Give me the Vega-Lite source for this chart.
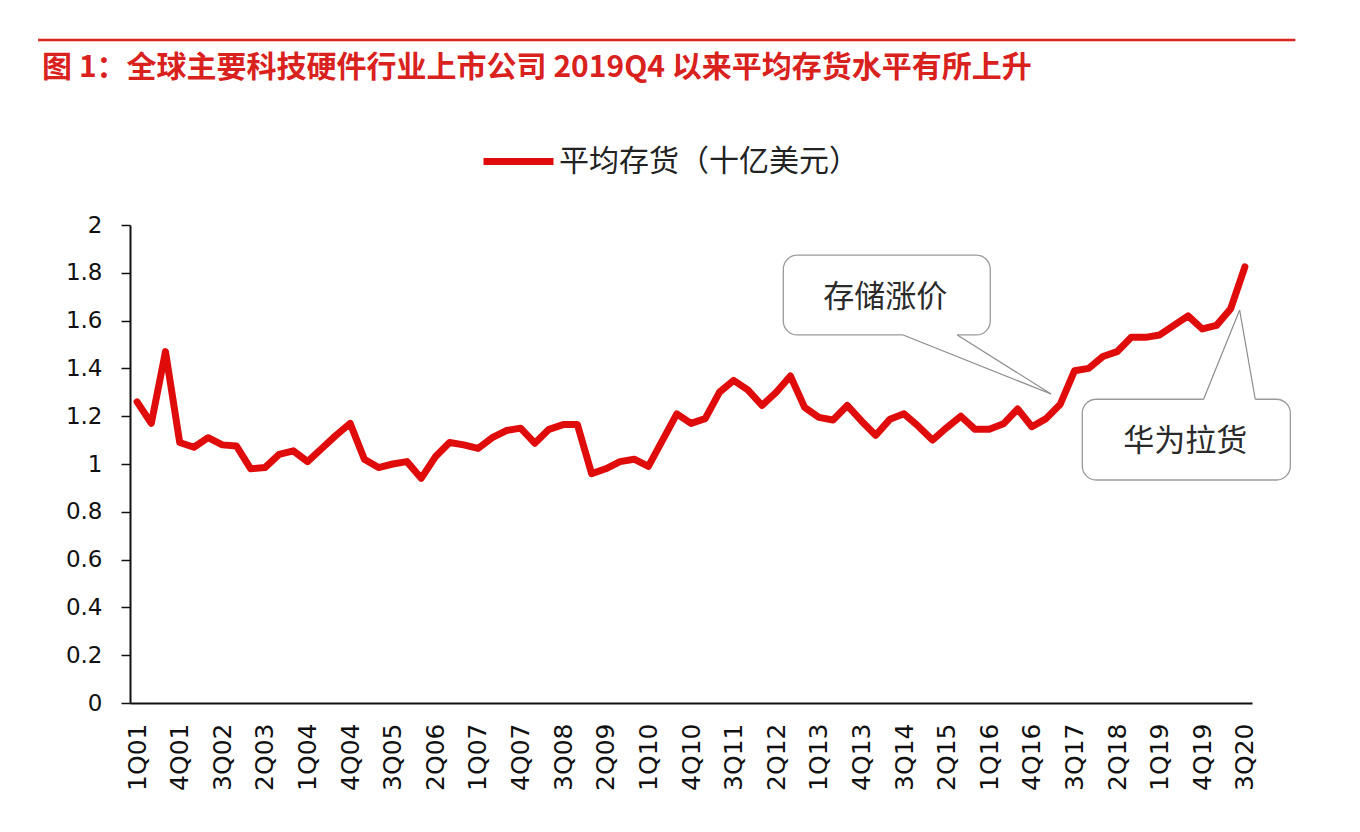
{
  "$schema": "https://vega.github.io/schema/vega-lite/v6.json",
  "autosize": {"type": "none"},
  "padding": {"left": 130, "top": 225, "right": 108, "bottom": 129},
  "width": 1122,
  "height": 478,
  "background": "#ffffff",
  "config": {
    "view": {"stroke": null},
    "font": "DejaVu Sans"
  },
  "datasets": {
    "inventory": [
      {"q": "1Q01", "i": 0, "v": 1.26}, {"q": "2Q01", "i": 1, "v": 1.17}, {"q": "3Q01", "i": 2, "v": 1.47}, {"q": "4Q01", "i": 3, "v": 1.09},
      {"q": "1Q02", "i": 4, "v": 1.07}, {"q": "2Q02", "i": 5, "v": 1.11}, {"q": "3Q02", "i": 6, "v": 1.08}, {"q": "4Q02", "i": 7, "v": 1.075},
      {"q": "1Q03", "i": 8, "v": 0.98}, {"q": "2Q03", "i": 9, "v": 0.985}, {"q": "3Q03", "i": 10, "v": 1.04}, {"q": "4Q03", "i": 11, "v": 1.055},
      {"q": "1Q04", "i": 12, "v": 1.01}, {"q": "2Q04", "i": 13, "v": 1.065}, {"q": "3Q04", "i": 14, "v": 1.12}, {"q": "4Q04", "i": 15, "v": 1.17},
      {"q": "1Q05", "i": 16, "v": 1.02}, {"q": "2Q05", "i": 17, "v": 0.985}, {"q": "3Q05", "i": 18, "v": 1.0}, {"q": "4Q05", "i": 19, "v": 1.01},
      {"q": "1Q06", "i": 20, "v": 0.94}, {"q": "2Q06", "i": 21, "v": 1.03}, {"q": "3Q06", "i": 22, "v": 1.09}, {"q": "4Q06", "i": 23, "v": 1.08},
      {"q": "1Q07", "i": 24, "v": 1.065}, {"q": "2Q07", "i": 25, "v": 1.11}, {"q": "3Q07", "i": 26, "v": 1.14}, {"q": "4Q07", "i": 27, "v": 1.15},
      {"q": "1Q08", "i": 28, "v": 1.087}, {"q": "2Q08", "i": 29, "v": 1.145}, {"q": "3Q08", "i": 30, "v": 1.165}, {"q": "4Q08", "i": 31, "v": 1.165},
      {"q": "1Q09", "i": 32, "v": 0.96}, {"q": "2Q09", "i": 33, "v": 0.98}, {"q": "3Q09", "i": 34, "v": 1.01}, {"q": "4Q09", "i": 35, "v": 1.02},
      {"q": "1Q10", "i": 36, "v": 0.99}, {"q": "2Q10", "i": 37, "v": 1.1}, {"q": "3Q10", "i": 38, "v": 1.21}, {"q": "4Q10", "i": 39, "v": 1.17},
      {"q": "1Q11", "i": 40, "v": 1.19}, {"q": "2Q11", "i": 41, "v": 1.3}, {"q": "3Q11", "i": 42, "v": 1.35}, {"q": "4Q11", "i": 43, "v": 1.31},
      {"q": "1Q12", "i": 44, "v": 1.245}, {"q": "2Q12", "i": 45, "v": 1.3}, {"q": "3Q12", "i": 46, "v": 1.368}, {"q": "4Q12", "i": 47, "v": 1.237},
      {"q": "1Q13", "i": 48, "v": 1.195}, {"q": "2Q13", "i": 49, "v": 1.184}, {"q": "3Q13", "i": 50, "v": 1.245}, {"q": "4Q13", "i": 51, "v": 1.18},
      {"q": "1Q14", "i": 52, "v": 1.12}, {"q": "2Q14", "i": 53, "v": 1.187}, {"q": "3Q14", "i": 54, "v": 1.21}, {"q": "4Q14", "i": 55, "v": 1.158},
      {"q": "1Q15", "i": 56, "v": 1.1}, {"q": "2Q15", "i": 57, "v": 1.152}, {"q": "3Q15", "i": 58, "v": 1.2}, {"q": "4Q15", "i": 59, "v": 1.145},
      {"q": "1Q16", "i": 60, "v": 1.145}, {"q": "2Q16", "i": 61, "v": 1.168}, {"q": "3Q16", "i": 62, "v": 1.23}, {"q": "4Q16", "i": 63, "v": 1.156},
      {"q": "1Q17", "i": 64, "v": 1.19}, {"q": "2Q17", "i": 65, "v": 1.25}, {"q": "3Q17", "i": 66, "v": 1.39}, {"q": "4Q17", "i": 67, "v": 1.4},
      {"q": "1Q18", "i": 68, "v": 1.45}, {"q": "2Q18", "i": 69, "v": 1.47}, {"q": "3Q18", "i": 70, "v": 1.53}, {"q": "4Q18", "i": 71, "v": 1.53},
      {"q": "1Q19", "i": 72, "v": 1.54}, {"q": "2Q19", "i": 73, "v": 1.58}, {"q": "3Q19", "i": 74, "v": 1.62}, {"q": "4Q19", "i": 75, "v": 1.565},
      {"q": "1Q20", "i": 76, "v": 1.58}, {"q": "2Q20", "i": 77, "v": 1.65}, {"q": "3Q20", "i": 78, "v": 1.825}
    ],
    "header": [
      {"x1": -6.97, "x2": 81.55, "y": 2.774, "tx": -6.69, "ty": 2.655, "text": "图 1：全球主要科技硬件行业上市公司 2019Q4 以来平均存货水平有所上升"}
    ],
    "boxes": [
      {"x1": 45.5, "x2": 60.07, "y1": 1.54, "y2": 1.874},
      {"x1": 66.55, "x2": 81.2, "y1": 0.933, "y2": 1.271}
    ],
    "gaps": [
      {"x1": 53.94, "x2": 57.75, "y": 1.54},
      {"x1": 75.09, "x2": 78.73, "y": 1.271}
    ],
    "pointers": [
      {"x1": 53.94, "y1": 1.54, "x2": 64.35, "y2": 1.293},
      {"x1": 57.75, "y1": 1.54, "x2": 64.35, "y2": 1.293},
      {"x1": 75.09, "y1": 1.271, "x2": 77.63, "y2": 1.644},
      {"x1": 78.73, "y1": 1.271, "x2": 77.63, "y2": 1.644}
    ],
    "notes": [
      {"x": 52.68, "y": 1.695, "text": "存储涨价"},
      {"x": 73.8, "y": 1.092, "text": "华为拉货"}
    ]
  },
  "layer": [
    {
      "data": {"name": "inventory"},
      "mark": {"type": "line", "strokeWidth": 7, "strokeJoin": "round", "strokeCap": "round"},
      "encoding": {
        "x": {
          "field": "i",
          "type": "quantitative",
          "title": null,
          "scale": {"domain": [-0.5, 78.5], "nice": false, "zero": false},
          "axis": {
            "values": [0, 3, 6, 9, 12, 15, 18, 21, 24, 27, 30, 33, 36, 39, 42, 45, 48, 51, 54, 57, 60, 63, 66, 69, 72, 75, 78],
            "labelExpr": "(datum.value % 4 + 1) + 'Q' + (floor(datum.value / 4) < 9 ? '0' : '') + (floor(datum.value / 4) + 1)",
            "labelAngle": -90,
            "labelFontSize": 25,
            "labelColor": "#111111",
            "labelPadding": 20,
            "labelFlush": false,
            "labelOverlap": false,
            "ticks": false,
            "grid": false,
            "domainColor": "#111111",
            "domainWidth": 2
          }
        },
        "y": {
          "field": "v",
          "type": "quantitative",
          "title": null,
          "scale": {"domain": [0, 2], "nice": false},
          "axis": {
            "values": [0, 0.2, 0.4, 0.6, 0.8, 1, 1.2, 1.4, 1.6, 1.8, 2],
            "format": "~g",
            "labelFontSize": 23,
            "labelColor": "#111111",
            "labelPadding": 19,
            "labelFlush": false,
            "tickSize": 9,
            "tickColor": "#111111",
            "tickWidth": 1.5,
            "grid": false,
            "domainColor": "#111111",
            "domainWidth": 2
          }
        },
        "color": {
          "datum": "平均存货（十亿美元）",
          "scale": {"range": ["#e00c0c"]},
          "legend": {
            "title": null,
            "orient": "none",
            "legendX": 350,
            "legendY": -102,
            "symbolType": "stroke",
            "symbolSize": 4900,
            "symbolStrokeWidth": 7,
            "labelFont": "Noto Sans CJK SC",
            "labelFontSize": 30,
            "labelColor": "#222222",
            "labelOffset": 2,
            "labelLimit": 500
          }
        }
      }
    },
    {
      "data": {"name": "header"},
      "mark": {"type": "rule", "color": "#d9211e", "strokeWidth": 2.5},
      "encoding": {
        "x": {"field": "x1", "type": "quantitative", "title": null, "scale": {"domain": [-0.5, 78.5], "nice": false, "zero": false}},
        "x2": {"field": "x2"},
        "y": {"field": "y", "type": "quantitative", "title": null, "scale": {"domain": [0, 2], "nice": false}}
      }
    },
    {
      "data": {"name": "header"},
      "mark": {"type": "text", "align": "left", "baseline": "middle", "font": "Noto Sans CJK SC", "fontWeight": "bold", "fontSize": 30, "color": "#d9211e"},
      "encoding": {
        "x": {"field": "tx", "type": "quantitative", "title": null, "scale": {"domain": [-0.5, 78.5], "nice": false, "zero": false}},
        "y": {"field": "ty", "type": "quantitative", "title": null, "scale": {"domain": [0, 2], "nice": false}},
        "text": {"field": "text"}
      }
    },
    {
      "data": {"name": "boxes"},
      "mark": {"type": "rect", "fill": "#ffffff", "stroke": "#9a9a9a", "strokeWidth": 1.3, "cornerRadius": 14},
      "encoding": {
        "x": {"field": "x1", "type": "quantitative", "title": null, "scale": {"domain": [-0.5, 78.5], "nice": false, "zero": false}},
        "x2": {"field": "x2"},
        "y": {"field": "y1", "type": "quantitative", "title": null, "scale": {"domain": [0, 2], "nice": false}},
        "y2": {"field": "y2"}
      }
    },
    {
      "data": {"name": "gaps"},
      "mark": {"type": "rule", "color": "#ffffff", "strokeWidth": 3},
      "encoding": {
        "x": {"field": "x1", "type": "quantitative", "title": null, "scale": {"domain": [-0.5, 78.5], "nice": false, "zero": false}},
        "x2": {"field": "x2"},
        "y": {"field": "y", "type": "quantitative", "title": null, "scale": {"domain": [0, 2], "nice": false}}
      }
    },
    {
      "data": {"name": "pointers"},
      "mark": {"type": "rule", "color": "#8c8c8c", "strokeWidth": 1.2},
      "encoding": {
        "x": {"field": "x1", "type": "quantitative", "title": null, "scale": {"domain": [-0.5, 78.5], "nice": false, "zero": false}},
        "y": {"field": "y1", "type": "quantitative", "title": null, "scale": {"domain": [0, 2], "nice": false}},
        "x2": {"field": "x2"},
        "y2": {"field": "y2"}
      }
    },
    {
      "data": {"name": "notes"},
      "mark": {"type": "text", "align": "center", "baseline": "middle", "font": "Noto Sans CJK SC", "fontSize": 31, "color": "#2a2a2a"},
      "encoding": {
        "x": {"field": "x", "type": "quantitative", "title": null, "scale": {"domain": [-0.5, 78.5], "nice": false, "zero": false}},
        "y": {"field": "y", "type": "quantitative", "title": null, "scale": {"domain": [0, 2], "nice": false}},
        "text": {"field": "text"}
      }
    }
  ]
}
